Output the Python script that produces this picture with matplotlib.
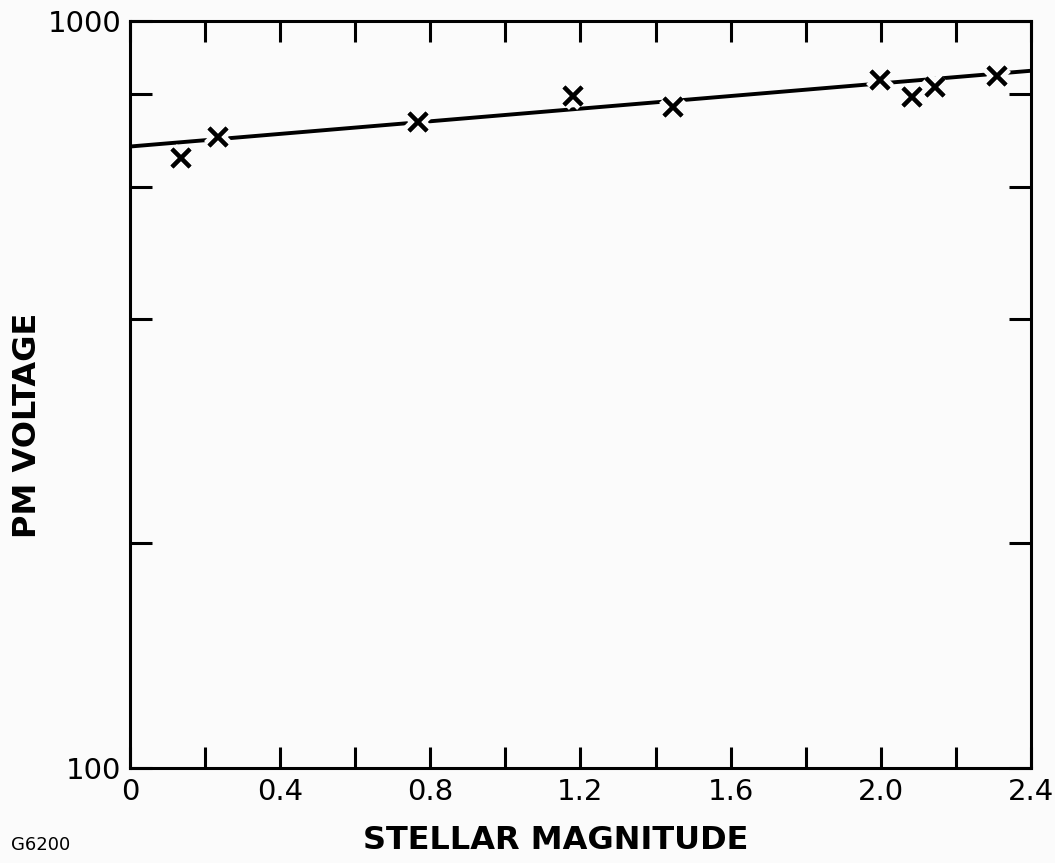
import numpy as np
import matplotlib.pyplot as plt
import matplotlib.patheffects as pe

# measured points (stellar magnitude, PM voltage)
mag = [0.136, 0.234, 0.767, 1.18, 1.446, 1.998, 2.083, 2.144, 2.309]
volts = [656, 700, 733, 795, 768, 835, 792, 817, 845]

# fitted line end points
fit_mag = [0.0, 2.4]
fit_volts = [680, 859]

xticks = [0.0, 0.2, 0.4, 0.6, 0.8, 1.0, 1.2, 1.4, 1.6, 1.8, 2.0, 2.2, 2.4]
xlabels = ['0', '', '0.4', '', '0.8', '', '1.2', '', '1.6', '', '2.0', '', '2.4']
yticks = [100, 200, 400, 600, 800, 1000]
ylabels = ['100', '', '', '', '', '1000']

plt.rcParams['font.family'] = ['DejaVu Sans']

fig = plt.figure(figsize=(10.55, 8.63), dpi=100)
fig.patch.set_facecolor('#fbfbfb')
ax = fig.add_axes([0.1232, 0.1101, 0.854, 0.865])
ax.set_facecolor('#fbfbfb')

ax.plot(fit_mag, fit_volts, color='black', lw=2.8, solid_capstyle='butt')
ax.plot(mag, volts, linestyle='none', marker='x', color='black',
        markersize=13, mew=3,
        path_effects=[pe.withStroke(linewidth=10, foreground='#fbfbfb'), pe.Normal()])

ax.set_yscale('log')
ax.set_xlim(0, 2.4)
ax.set_ylim(100, 1000)
ax.set_xticks(xticks)
ax.set_xticklabels(xlabels)
ax.set_yticks(yticks)
ax.set_yticklabels(ylabels)
ax.minorticks_off()

ax.tick_params(axis='both', direction='in', width=2.2, labelsize=21,
               top=True, right=True)
ax.tick_params(axis='x', length=15, pad=7)
ax.tick_params(axis='y', length=16, pad=6)
for s in ax.spines.values():
    s.set_linewidth(2.2)

ax.set_xlabel('STELLAR MAGNITUDE', fontsize=23, fontweight='bold')
ax.xaxis.set_label_coords(0.473, -0.077)
ax.set_ylabel('PM VOLTAGE', fontsize=23, fontweight='bold')
ax.yaxis.set_label_coords(-0.097, 0.459)

fig.text(0.01, 0.015, 'G6200', fontsize=13)

plt.savefig('out.png', dpi=100, facecolor=fig.get_facecolor())
